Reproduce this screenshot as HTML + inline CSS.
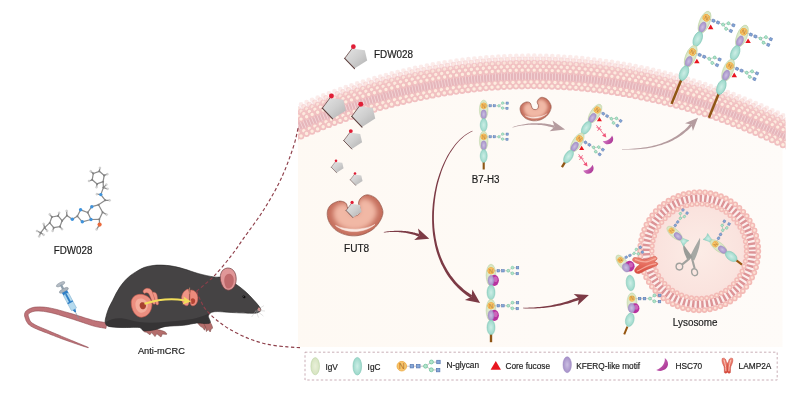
<!DOCTYPE html>
<html><head><meta charset="utf-8"><title>FDW028</title>
<style>
html,body{margin:0;padding:0;background:#fff;}
body{width:799px;height:410px;overflow:hidden;}
svg{display:block;}
text{font-family:"Liberation Sans",sans-serif;fill:#1f1b1c;stroke:#1f1b1c;stroke-width:0.18px;filter:grayscale(1);}
</style></head>
<body>
<svg width="799" height="410" viewBox="0 0 799 410">
<defs>
<linearGradient id="gPent" x1="0" y1="0" x2="1" y2="1">
  <stop offset="0" stop-color="#e4e4e4"/><stop offset="0.5" stop-color="#cfcfcf"/><stop offset="1" stop-color="#b0b0b0"/>
</linearGradient>
<radialGradient id="gFut" cx="0.42" cy="0.42" r="0.62">
  <stop offset="0" stop-color="#f2b9a6"/><stop offset="0.55" stop-color="#e39a86"/><stop offset="0.85" stop-color="#cf7a67"/><stop offset="1" stop-color="#b9604f"/>
</radialGradient>
<radialGradient id="gLys" cx="0.5" cy="0.5" r="0.5">
  <stop offset="0" stop-color="#fcece6"/><stop offset="0.7" stop-color="#fae3de"/><stop offset="1" stop-color="#f8dad6"/>
</radialGradient>
<radialGradient id="gIgC" cx="0.5" cy="0.5" r="0.5">
  <stop offset="0" stop-color="#cdeee6"/><stop offset="1" stop-color="#9bd8ca"/>
</radialGradient>
<radialGradient id="gIgV" cx="0.5" cy="0.5" r="0.5">
  <stop offset="0" stop-color="#e9f0da"/><stop offset="1" stop-color="#d6e4c0"/>
</radialGradient>
<radialGradient id="gKf" cx="0.5" cy="0.5" r="0.5">
  <stop offset="0" stop-color="#cbbfe2"/><stop offset="1" stop-color="#a590c8"/>
</radialGradient>
<linearGradient id="gHsc" x1="0" y1="0" x2="1" y2="1">
  <stop offset="0" stop-color="#d77fc7"/><stop offset="1" stop-color="#a3288c"/>
</linearGradient>
<linearGradient id="gLamp" x1="0" y1="0" x2="0" y2="1">
  <stop offset="0" stop-color="#f08c7c"/><stop offset="1" stop-color="#d94a3c"/>
</linearGradient>
<linearGradient id="gCell" x1="0" y1="0" x2="1" y2="0">
  <stop offset="0" stop-color="#fef9f3"/><stop offset="0.5" stop-color="#fefaf6"/><stop offset="1" stop-color="#fefbf8"/>
</linearGradient>
<filter id="soft" x="-2%" y="-20%" width="104%" height="140%"><feGaussianBlur stdDeviation="0.45"/></filter>
<clipPath id="cellClip"><rect x="298" y="0" width="487.5" height="347"/></clipPath>
<clipPath id="bgClip"><rect x="298" y="0" width="484.5" height="347"/></clipPath>

<g id="pent">
  <path d="M-4.6,-8.2 L7.1,-6.7 L9.25,2.6 L-2.25,10 L-11.2,0.7 Z" fill="url(#gPent)"/>
  <path d="M-4.4,-8.4 L-11.2,0.7" fill="none" stroke="#6b4a48" stroke-width="0.75" stroke-linecap="round"/>
  <path d="M-11.2,0.7 L-2.25,10" fill="none" stroke="#5e403e" stroke-width="0.95" stroke-linecap="round"/>
  <circle cx="-3.3" cy="-9.9" r="2.15" fill="#e01d36"/>
</g>
<g id="glyc">
  <path d="M3,0 H15.2 L19,-2.6 H23.4 M15.2,0 L19,2.4 H23.2" fill="none" stroke="#b9b0b0" stroke-width="0.5"/>
  <rect x="5.35" y="-1.10" width="2.2" height="2.2" fill="#86a8d8" stroke="#5677b0" stroke-width="0.45"/>
  <rect x="9.50" y="-1.10" width="2.2" height="2.2" fill="#86a8d8" stroke="#5677b0" stroke-width="0.45"/>
  <circle cx="15.2" cy="0" r="1.25" fill="#b4e4cd" stroke="#6fc29c" stroke-width="0.5"/>
  <circle cx="19" cy="-2.7" r="1.25" fill="#b4e4cd" stroke="#6fc29c" stroke-width="0.5"/>
  <circle cx="18.9" cy="2.3" r="1.25" fill="#b4e4cd" stroke="#6fc29c" stroke-width="0.5"/>
  <rect x="22.40" y="-3.80" width="2.2" height="2.2" fill="#86a8d8" stroke="#5677b0" stroke-width="0.45"/>
  <rect x="22.20" y="1.40" width="2.2" height="2.2" fill="#86a8d8" stroke="#5677b0" stroke-width="0.45"/>
</g>
<g id="Nc">
  <circle r="2.8" fill="#f8c56e" stroke="#ecab45" stroke-width="0.5"/>
  <text x="0" y="1.7" font-size="4.8" text-anchor="middle" style="fill:#b07420;stroke:none;filter:none">N</text>
</g>
<path id="tri" d="M0,-2.1 L2.3,1.8 L-2.3,1.8Z" fill="#e8151f"/>
<path id="hsc" d="M-5.4,-1.6 C-2.6,0.6 2.6,0.6 5.4,-1.6 C5.6,2.2 3.2,4.6 0,4.6 C-3.2,4.6 -5.6,2.2 -5.4,-1.6Z" fill="url(#gHsc)"/>
<clipPath id="futClip"><path d="M-27.8,0.2 C-27.7,-2.6 -26.7,-5.5 -24.8,-7.5 C-22.9,-9.5 -18.8,-11.4 -16.2,-11.8 C-13.6,-12.2 -10.9,-11.2 -9.4,-10.1 C-7.9,-9.0 -8.0,-6.8 -7.4,-5.0 C-6.8,-3.2 -6.7,-0.7 -5.6,0.6 C-4.5,1.9 -2.5,2.7 -1.0,2.8 C0.5,2.9 2.5,2.5 3.6,1.4 C4.7,0.3 5.4,-2.3 5.4,-4.0 C5.4,-5.7 3.8,-7.5 3.6,-9.0 C3.4,-10.5 3.7,-11.7 4.4,-13.0 C5.1,-14.3 6.2,-15.8 7.7,-16.6 C9.2,-17.5 11.3,-18.6 13.7,-18.1 C16.1,-17.6 19.8,-16.1 22.2,-13.5 C24.6,-10.9 27.2,-5.8 27.8,-2.4 C28.4,1.0 27.2,3.9 25.6,7.0 C24.0,10.1 21.2,13.9 17.9,16.4 C14.6,18.9 10.0,21.0 6.0,22.0 C2.0,23.0 -2.0,23.1 -6.0,22.5 C-10.0,21.9 -14.6,20.2 -17.9,18.1 C-21.2,16.0 -24.0,12.6 -25.6,9.6 C-27.2,6.6 -27.9,3.1 -27.8,0.2Z"/></clipPath><filter id="blur3" x="-30%" y="-30%" width="160%" height="160%"><feGaussianBlur stdDeviation="3.2"/></filter></defs>
<g clip-path="url(#cellClip)">
<path d="M290,126.1 Q542.5,12.4 795,136.8 L795,360 L290,360Z" fill="url(#gCell)" clip-path="url(#bgClip)"/>
<path d="M290,114.6 Q542.5,1.9 795,126.3 L795,151.8 Q542.5,27.4 290,142.1Z" fill="#f6d9d6"/>
<path d="M290,123.9 Q542.5,10.9 795,135.3 L795,145.8 Q542.5,21.4 290,135.5Z" fill="#e6b6bb"/>
<path d="M290,129.8 Q542.5,16.2 795,140.6" fill="none" stroke="#f8e3e3" stroke-width="9.5" stroke-dasharray="0.8 2.2" opacity="0.75"/>
<g filter="url(#soft)">
<path d="M290,109.3 Q542.5,-3.4 795,121.0" fill="none" stroke="#f1c0c1" stroke-width="4.8" stroke-linecap="round" stroke-dasharray="0 6.0" stroke-dashoffset="0" opacity="0.3"/>
<path d="M290,109.0 Q542.5,-3.7 795,120.7" fill="none" stroke="#fdecdf" stroke-width="2.59" stroke-linecap="round" stroke-dasharray="0 6.0" stroke-dashoffset="0" opacity="0.3"/>
<path d="M290,112.7 Q542.5,0.0 795,124.4" fill="none" stroke="#f1c0c1" stroke-width="5.4" stroke-linecap="round" stroke-dasharray="0 6.0" stroke-dashoffset="3" opacity="0.52"/>
<path d="M290,112.4 Q542.5,-0.3 795,124.1" fill="none" stroke="#fdecdf" stroke-width="2.92" stroke-linecap="round" stroke-dasharray="0 6.0" stroke-dashoffset="3" opacity="0.52"/>
<path d="M290,116.3 Q542.5,3.6 795,128.0" fill="none" stroke="#f1c0c1" stroke-width="5.9" stroke-linecap="round" stroke-dasharray="0 6.0" stroke-dashoffset="0" opacity="0.78"/>
<path d="M290,116.0 Q542.5,3.3 795,127.7" fill="none" stroke="#fdecdf" stroke-width="3.19" stroke-linecap="round" stroke-dasharray="0 6.0" stroke-dashoffset="0" opacity="0.78"/>
<path d="M290,120.1 Q542.5,7.4 795,131.8" fill="none" stroke="#f1c0c1" stroke-width="6.2" stroke-linecap="round" stroke-dasharray="0 6.0" stroke-dashoffset="3" opacity="0.95"/>
<path d="M290,119.8 Q542.5,7.1 795,131.5" fill="none" stroke="#fdecdf" stroke-width="3.35" stroke-linecap="round" stroke-dasharray="0 6.0" stroke-dashoffset="3" opacity="0.95"/>
<path d="M290,124.2 Q542.5,11.2 795,135.6" fill="none" stroke="#f1c0c1" stroke-width="6.2" stroke-linecap="round" stroke-dasharray="0 6.0" stroke-dashoffset="0" opacity="1.0"/>
<path d="M290,123.9 Q542.5,10.9 795,135.3" fill="none" stroke="#fdecdf" stroke-width="3.35" stroke-linecap="round" stroke-dasharray="0 6.0" stroke-dashoffset="0" opacity="1.0"/>
<path d="M290,137.1 Q542.5,22.8 795,147.2" fill="none" stroke="#f1c0c1" stroke-width="6.4" stroke-linecap="round" stroke-dasharray="0 6.0" stroke-dashoffset="3" opacity="1.0"/>
<path d="M290,136.8 Q542.5,22.5 795,146.9" fill="none" stroke="#fdecdf" stroke-width="3.46" stroke-linecap="round" stroke-dasharray="0 6.0" stroke-dashoffset="3" opacity="1.0"/>
<path d="M290,141.1 Q542.5,26.4 795,150.8" fill="none" stroke="#f1c0c1" stroke-width="6.4" stroke-linecap="round" stroke-dasharray="0 6.0" stroke-dashoffset="0" opacity="1.0"/>
<path d="M290,140.8 Q542.5,26.1 795,150.5" fill="none" stroke="#fdecdf" stroke-width="3.46" stroke-linecap="round" stroke-dasharray="0 6.0" stroke-dashoffset="0" opacity="1.0"/>
</g>
</g>
<use href="#pent" transform="translate(357,57.6) scale(1.1)"/>
<use href="#pent" transform="translate(335.2,107.4) scale(1.15)"/>
<use href="#pent" transform="translate(364.6,115.6) scale(1.15)"/>
<use href="#pent" transform="translate(353.8,140) scale(0.9)"/>
<use href="#pent" transform="translate(338,166.8) scale(0.6)"/>
<use href="#pent" transform="translate(357,179.4) scale(0.6)"/>
<text transform="translate(374.0,57.9) scale(0.9569,1)" font-size="10.35">FDW028</text>
<g transform="translate(355,213)"><g clip-path="url(#futClip)"><path d="M-27.8,0.2 C-27.7,-2.6 -26.7,-5.5 -24.8,-7.5 C-22.9,-9.5 -18.8,-11.4 -16.2,-11.8 C-13.6,-12.2 -10.9,-11.2 -9.4,-10.1 C-7.9,-9.0 -8.0,-6.8 -7.4,-5.0 C-6.8,-3.2 -6.7,-0.7 -5.6,0.6 C-4.5,1.9 -2.5,2.7 -1.0,2.8 C0.5,2.9 2.5,2.5 3.6,1.4 C4.7,0.3 5.4,-2.3 5.4,-4.0 C5.4,-5.7 3.8,-7.5 3.6,-9.0 C3.4,-10.5 3.7,-11.7 4.4,-13.0 C5.1,-14.3 6.2,-15.8 7.7,-16.6 C9.2,-17.5 11.3,-18.6 13.7,-18.1 C16.1,-17.6 19.8,-16.1 22.2,-13.5 C24.6,-10.9 27.2,-5.8 27.8,-2.4 C28.4,1.0 27.2,3.9 25.6,7.0 C24.0,10.1 21.2,13.9 17.9,16.4 C14.6,18.9 10.0,21.0 6.0,22.0 C2.0,23.0 -2.0,23.1 -6.0,22.5 C-10.0,21.9 -14.6,20.2 -17.9,18.1 C-21.2,16.0 -24.0,12.6 -25.6,9.6 C-27.2,6.6 -27.9,3.1 -27.8,0.2Z" fill="#c56f5d"/><path d="M-27.8,0.2 C-27.7,-2.6 -26.7,-5.5 -24.8,-7.5 C-22.9,-9.5 -18.8,-11.4 -16.2,-11.8 C-13.6,-12.2 -10.9,-11.2 -9.4,-10.1 C-7.9,-9.0 -8.0,-6.8 -7.4,-5.0 C-6.8,-3.2 -6.7,-0.7 -5.6,0.6 C-4.5,1.9 -2.5,2.7 -1.0,2.8 C0.5,2.9 2.5,2.5 3.6,1.4 C4.7,0.3 5.4,-2.3 5.4,-4.0 C5.4,-5.7 3.8,-7.5 3.6,-9.0 C3.4,-10.5 3.7,-11.7 4.4,-13.0 C5.1,-14.3 6.2,-15.8 7.7,-16.6 C9.2,-17.5 11.3,-18.6 13.7,-18.1 C16.1,-17.6 19.8,-16.1 22.2,-13.5 C24.6,-10.9 27.2,-5.8 27.8,-2.4 C28.4,1.0 27.2,3.9 25.6,7.0 C24.0,10.1 21.2,13.9 17.9,16.4 C14.6,18.9 10.0,21.0 6.0,22.0 C2.0,23.0 -2.0,23.1 -6.0,22.5 C-10.0,21.9 -14.6,20.2 -17.9,18.1 C-21.2,16.0 -24.0,12.6 -25.6,9.6 C-27.2,6.6 -27.9,3.1 -27.8,0.2Z" fill="#f1b8a5" transform="translate(0,-0.5) scale(0.78)" filter="url(#blur3)"/></g><path d="M-27.8,0.2 C-27.7,-2.6 -26.7,-5.5 -24.8,-7.5 C-22.9,-9.5 -18.8,-11.4 -16.2,-11.8 C-13.6,-12.2 -10.9,-11.2 -9.4,-10.1 C-7.9,-9.0 -8.0,-6.8 -7.4,-5.0 C-6.8,-3.2 -6.7,-0.7 -5.6,0.6 C-4.5,1.9 -2.5,2.7 -1.0,2.8 C0.5,2.9 2.5,2.5 3.6,1.4 C4.7,0.3 5.4,-2.3 5.4,-4.0 C5.4,-5.7 3.8,-7.5 3.6,-9.0 C3.4,-10.5 3.7,-11.7 4.4,-13.0 C5.1,-14.3 6.2,-15.8 7.7,-16.6 C9.2,-17.5 11.3,-18.6 13.7,-18.1 C16.1,-17.6 19.8,-16.1 22.2,-13.5 C24.6,-10.9 27.2,-5.8 27.8,-2.4 C28.4,1.0 27.2,3.9 25.6,7.0 C24.0,10.1 21.2,13.9 17.9,16.4 C14.6,18.9 10.0,21.0 6.0,22.0 C2.0,23.0 -2.0,23.1 -6.0,22.5 C-10.0,21.9 -14.6,20.2 -17.9,18.1 C-21.2,16.0 -24.0,12.6 -25.6,9.6 C-27.2,6.6 -27.9,3.1 -27.8,0.2Z" fill="none" stroke="#8f4c3e" stroke-width="0.7"/><path d="M-19.5,12.4 C-10,20.4 9,20.8 20,11.4 C10,17.4 -9,17.8 -19.5,12.4Z" fill="#fdeee8" stroke="#fdeee8" stroke-width="0.5" stroke-linejoin="round" opacity="0.95"/></g>
<use href="#pent" transform="translate(354.6,210) scale(0.76)"/>
<text transform="translate(356.6,251.7) scale(0.9569,1)" font-size="10.55" text-anchor="middle">FUT8</text>
<g transform="translate(535.6,108) rotate(-4) scale(0.56)"><g clip-path="url(#futClip)"><path d="M-27.8,0.2 C-27.7,-2.6 -26.7,-5.5 -24.8,-7.5 C-22.9,-9.5 -18.8,-11.4 -16.2,-11.8 C-13.6,-12.2 -10.9,-11.2 -9.4,-10.1 C-7.9,-9.0 -8.0,-6.8 -7.4,-5.0 C-6.8,-3.2 -6.7,-0.7 -5.6,0.6 C-4.5,1.9 -2.5,2.7 -1.0,2.8 C0.5,2.9 2.5,2.5 3.6,1.4 C4.7,0.3 5.4,-2.3 5.4,-4.0 C5.4,-5.7 3.8,-7.5 3.6,-9.0 C3.4,-10.5 3.7,-11.7 4.4,-13.0 C5.1,-14.3 6.2,-15.8 7.7,-16.6 C9.2,-17.5 11.3,-18.6 13.7,-18.1 C16.1,-17.6 19.8,-16.1 22.2,-13.5 C24.6,-10.9 27.2,-5.8 27.8,-2.4 C28.4,1.0 27.2,3.9 25.6,7.0 C24.0,10.1 21.2,13.9 17.9,16.4 C14.6,18.9 10.0,21.0 6.0,22.0 C2.0,23.0 -2.0,23.1 -6.0,22.5 C-10.0,21.9 -14.6,20.2 -17.9,18.1 C-21.2,16.0 -24.0,12.6 -25.6,9.6 C-27.2,6.6 -27.9,3.1 -27.8,0.2Z" fill="#c56f5d"/><path d="M-27.8,0.2 C-27.7,-2.6 -26.7,-5.5 -24.8,-7.5 C-22.9,-9.5 -18.8,-11.4 -16.2,-11.8 C-13.6,-12.2 -10.9,-11.2 -9.4,-10.1 C-7.9,-9.0 -8.0,-6.8 -7.4,-5.0 C-6.8,-3.2 -6.7,-0.7 -5.6,0.6 C-4.5,1.9 -2.5,2.7 -1.0,2.8 C0.5,2.9 2.5,2.5 3.6,1.4 C4.7,0.3 5.4,-2.3 5.4,-4.0 C5.4,-5.7 3.8,-7.5 3.6,-9.0 C3.4,-10.5 3.7,-11.7 4.4,-13.0 C5.1,-14.3 6.2,-15.8 7.7,-16.6 C9.2,-17.5 11.3,-18.6 13.7,-18.1 C16.1,-17.6 19.8,-16.1 22.2,-13.5 C24.6,-10.9 27.2,-5.8 27.8,-2.4 C28.4,1.0 27.2,3.9 25.6,7.0 C24.0,10.1 21.2,13.9 17.9,16.4 C14.6,18.9 10.0,21.0 6.0,22.0 C2.0,23.0 -2.0,23.1 -6.0,22.5 C-10.0,21.9 -14.6,20.2 -17.9,18.1 C-21.2,16.0 -24.0,12.6 -25.6,9.6 C-27.2,6.6 -27.9,3.1 -27.8,0.2Z" fill="#f1b8a5" transform="translate(0,-0.5) scale(0.78)" filter="url(#blur3)"/></g><path d="M-27.8,0.2 C-27.7,-2.6 -26.7,-5.5 -24.8,-7.5 C-22.9,-9.5 -18.8,-11.4 -16.2,-11.8 C-13.6,-12.2 -10.9,-11.2 -9.4,-10.1 C-7.9,-9.0 -8.0,-6.8 -7.4,-5.0 C-6.8,-3.2 -6.7,-0.7 -5.6,0.6 C-4.5,1.9 -2.5,2.7 -1.0,2.8 C0.5,2.9 2.5,2.5 3.6,1.4 C4.7,0.3 5.4,-2.3 5.4,-4.0 C5.4,-5.7 3.8,-7.5 3.6,-9.0 C3.4,-10.5 3.7,-11.7 4.4,-13.0 C5.1,-14.3 6.2,-15.8 7.7,-16.6 C9.2,-17.5 11.3,-18.6 13.7,-18.1 C16.1,-17.6 19.8,-16.1 22.2,-13.5 C24.6,-10.9 27.2,-5.8 27.8,-2.4 C28.4,1.0 27.2,3.9 25.6,7.0 C24.0,10.1 21.2,13.9 17.9,16.4 C14.6,18.9 10.0,21.0 6.0,22.0 C2.0,23.0 -2.0,23.1 -6.0,22.5 C-10.0,21.9 -14.6,20.2 -17.9,18.1 C-21.2,16.0 -24.0,12.6 -25.6,9.6 C-27.2,6.6 -27.9,3.1 -27.8,0.2Z" fill="none" stroke="#8f4c3e" stroke-width="1.1"/><path d="M-19.5,12.4 C-10,20.4 9,20.8 20,11.4 C10,17.4 -9,17.8 -19.5,12.4Z" fill="#fdeee8" stroke="#fdeee8" stroke-width="0.5" stroke-linejoin="round" opacity="0.95"/></g>
<path d="M383.8,232.5 L385.2,232.4 L386.6,232.3 L388.0,232.2 L389.3,232.1 L390.7,232.0 L392.0,232.0 L393.3,232.0 L394.5,232.0 L395.8,232.0 L397.0,232.1 L398.2,232.1 L399.4,232.2 L400.6,232.3 L401.8,232.4 L402.9,232.5 L404.1,232.7 L405.2,232.8 L406.3,233.0 L407.4,233.2 L408.5,233.5 L409.6,233.7 L410.7,234.0 L411.7,234.2 L412.8,234.5 L413.8,234.8 L414.9,235.1 L415.9,235.5 L416.9,235.9 L417.9,236.2 L419.0,236.6 L419.8,234.2 L418.8,233.8 L417.7,233.5 L416.6,233.2 L415.5,232.9 L414.4,232.6 L413.3,232.4 L412.2,232.1 L411.1,231.9 L410.0,231.7 L408.9,231.5 L407.7,231.3 L406.6,231.2 L405.4,231.1 L404.3,231.0 L403.1,230.9 L401.9,230.8 L400.7,230.8 L399.5,230.7 L398.3,230.7 L397.0,230.7 L395.8,230.7 L394.5,230.8 L393.2,230.9 L391.9,231.0 L390.6,231.1 L389.3,231.2 L387.9,231.3 L386.6,231.5 L385.2,231.7 L383.8,231.9Z" fill="#7c3a45" opacity="1"/><path d="M429.3,238.8 L414.2,240.0 L419.4,235.4 L418.0,228.6Z" fill="#7c3a45" opacity="1"/>
<path d="M472.4,130.8 L470.2,131.8 L468.1,132.9 L466.0,134.2 L464.0,135.7 L461.9,137.4 L459.9,139.2 L458.0,141.2 L456.1,143.3 L454.3,145.5 L452.5,147.9 L450.7,150.4 L449.1,153.0 L447.4,155.8 L445.9,158.7 L444.4,161.7 L443.0,164.7 L441.6,167.9 L440.4,171.2 L439.2,174.6 L438.1,178.0 L437.0,181.5 L436.1,185.1 L435.3,188.8 L434.5,192.5 L433.9,196.3 L433.3,200.2 L432.8,204.1 L432.5,208.0 L432.2,212.0 L432.1,216.0 L432.1,220.0 L432.2,223.9 L432.4,227.7 L432.7,231.4 L433.1,235.0 L433.7,238.6 L434.3,242.0 L435.0,245.4 L435.8,248.7 L436.7,251.9 L437.7,255.0 L438.8,258.1 L440.0,261.0 L441.2,263.9 L442.6,266.6 L444.0,269.3 L445.5,271.9 L447.0,274.4 L448.7,276.9 L450.4,279.2 L452.2,281.5 L454.0,283.7 L455.9,285.8 L457.8,287.8 L459.9,289.7 L461.9,291.5 L464.0,293.3 L466.2,295.0 L468.4,296.6 L470.7,298.1 L472.3,295.5 L470.1,294.1 L468.0,292.6 L465.8,291.0 L463.8,289.4 L461.8,287.6 L459.8,285.8 L457.9,283.9 L456.0,281.9 L454.2,279.8 L452.5,277.6 L450.8,275.4 L449.2,273.0 L447.6,270.6 L446.2,268.1 L444.8,265.5 L443.4,262.8 L442.2,260.1 L441.0,257.2 L439.9,254.3 L438.9,251.2 L438.0,248.1 L437.1,244.9 L436.4,241.6 L435.7,238.2 L435.2,234.7 L434.7,231.2 L434.3,227.5 L434.1,223.8 L433.9,219.9 L433.9,216.0 L434.0,212.0 L434.2,208.1 L434.5,204.2 L434.9,200.4 L435.4,196.6 L436.0,192.8 L436.7,189.1 L437.4,185.4 L438.3,181.9 L439.3,178.4 L440.4,174.9 L441.5,171.6 L442.7,168.3 L444.0,165.2 L445.4,162.1 L446.8,159.1 L448.3,156.3 L449.8,153.5 L451.5,150.9 L453.2,148.4 L454.9,146.0 L456.7,143.8 L458.5,141.7 L460.4,139.7 L462.4,137.9 L464.3,136.2 L466.4,134.7 L468.4,133.4 L470.5,132.2 L472.6,131.2Z" fill="#7c3a45" opacity="1"/><path d="M480.1,302.9 L464.9,300.1 L471.5,296.8 L472.4,289.5Z" fill="#7c3a45" opacity="1"/>
<path d="M512.5,127.6 L513.7,127.3 L515.0,126.9 L516.3,126.6 L517.6,126.3 L519.0,126.1 L520.3,125.8 L521.7,125.6 L523.0,125.4 L524.4,125.2 L525.8,125.0 L527.1,124.9 L528.5,124.8 L529.9,124.7 L531.3,124.7 L532.8,124.7 L534.2,124.7 L535.6,124.7 L537.0,124.8 L538.4,124.9 L539.9,125.0 L541.3,125.1 L542.7,125.3 L544.2,125.5 L545.6,125.8 L547.0,126.1 L548.5,126.4 L549.9,126.7 L551.3,127.1 L552.7,127.5 L554.2,128.0 L554.8,125.6 L553.4,125.3 L551.9,124.9 L550.4,124.6 L548.9,124.3 L547.4,124.0 L545.9,123.8 L544.4,123.6 L543.0,123.5 L541.5,123.3 L540.0,123.2 L538.5,123.2 L537.1,123.2 L535.6,123.2 L534.2,123.2 L532.7,123.2 L531.3,123.3 L529.9,123.4 L528.4,123.6 L527.0,123.7 L525.6,123.9 L524.2,124.2 L522.9,124.4 L521.5,124.7 L520.1,125.0 L518.8,125.3 L517.5,125.6 L516.2,126.0 L514.9,126.3 L513.6,126.7 L512.3,127.2Z" fill="#b59c9f" opacity="1"/><path d="M565.1,129.6 L549.7,131.2 L554.5,126.8 L552.5,120.6Z" fill="#b59c9f" opacity="1"/>
<path d="M622.0,149.4 L625.3,149.5 L628.5,149.6 L631.6,149.5 L634.6,149.4 L637.6,149.3 L640.6,149.0 L643.4,148.7 L646.2,148.4 L648.9,148.0 L651.6,147.5 L654.2,146.9 L656.7,146.3 L659.2,145.6 L661.6,144.9 L664.0,144.1 L666.3,143.3 L668.5,142.4 L670.7,141.4 L672.8,140.4 L674.8,139.3 L676.8,138.2 L678.8,137.0 L680.7,135.7 L682.5,134.4 L684.3,133.1 L686.0,131.6 L687.7,130.2 L689.3,128.7 L690.9,127.1 L692.4,125.5 L690.4,123.7 L689.0,125.3 L687.5,126.9 L686.0,128.4 L684.5,129.9 L682.8,131.3 L681.1,132.6 L679.4,134.0 L677.6,135.2 L675.8,136.4 L673.9,137.6 L671.9,138.7 L669.9,139.7 L667.8,140.7 L665.6,141.7 L663.4,142.6 L661.1,143.4 L658.8,144.2 L656.3,144.9 L653.9,145.6 L651.3,146.2 L648.7,146.7 L646.0,147.2 L643.3,147.6 L640.5,148.0 L637.6,148.3 L634.6,148.6 L631.6,148.8 L628.4,148.9 L625.3,149.0 L622.0,149.0Z" fill="#b59c9f" opacity="1"/><path d="M698.0,117.8 L692.9,130.9 L691.4,124.6 L685.0,123.3Z" fill="#b59c9f" opacity="1"/>
<path d="M523.0,308.3 L525.2,308.4 L527.3,308.4 L529.5,308.5 L531.6,308.5 L533.6,308.4 L535.7,308.4 L537.7,308.3 L539.7,308.2 L541.6,308.1 L543.6,307.9 L545.5,307.7 L547.4,307.5 L549.3,307.3 L551.2,307.0 L553.0,306.7 L554.9,306.4 L556.7,306.1 L558.5,305.8 L560.3,305.4 L562.1,305.0 L563.8,304.6 L565.6,304.1 L567.4,303.7 L569.1,303.2 L570.8,302.7 L572.6,302.1 L574.3,301.6 L576.0,301.0 L577.8,300.4 L579.5,299.8 L578.5,297.2 L576.8,297.9 L575.2,298.5 L573.5,299.1 L571.8,299.7 L570.1,300.3 L568.4,300.9 L566.7,301.4 L565.0,302.0 L563.3,302.5 L561.6,302.9 L559.8,303.4 L558.1,303.8 L556.3,304.3 L554.5,304.6 L552.7,305.0 L550.9,305.4 L549.1,305.7 L547.2,306.0 L545.3,306.3 L543.4,306.5 L541.5,306.7 L539.6,306.9 L537.6,307.1 L535.6,307.3 L533.6,307.4 L531.5,307.5 L529.4,307.6 L527.3,307.7 L525.2,307.7 L523.0,307.7Z" fill="#7c3a45" opacity="1"/><path d="M588.9,294.9 L577.8,305.3 L579.0,298.5 L573.7,294.1Z" fill="#7c3a45" opacity="1"/>
<g transform="translate(483.7,100) rotate(0) scale(1.0)"><rect x="-1.05" y="61" width="2.1" height="8.5" fill="#8f5514"/><ellipse cx="0" cy="9.8" rx="4.3" ry="9.8" fill="url(#gIgV)" stroke="#bcd3a6" stroke-width="0.5"/><ellipse cx="0" cy="14.3" rx="2.7" ry="4.6" fill="url(#gKf)" stroke="#9a86c0" stroke-width="0.3"/><ellipse cx="0" cy="25" rx="3.5" ry="6.5" fill="url(#gIgC)" stroke="#7fc6b6" stroke-width="0.5"/><use href="#Nc" x="0" y="5.8"/><use href="#glyc" transform="translate(0,5.8) rotate(0) scale(1.0)"/><use href="#Nc" x="0" y="5.8"/><ellipse cx="0" cy="40.8" rx="4.3" ry="9.8" fill="url(#gIgV)" stroke="#bcd3a6" stroke-width="0.5"/><ellipse cx="0" cy="45.3" rx="2.7" ry="4.6" fill="url(#gKf)" stroke="#9a86c0" stroke-width="0.3"/><ellipse cx="0" cy="56" rx="3.5" ry="6.5" fill="url(#gIgC)" stroke="#7fc6b6" stroke-width="0.5"/><use href="#Nc" x="0" y="36.8"/><use href="#glyc" transform="translate(0,36.8) rotate(0) scale(1.0)"/><use href="#Nc" x="0" y="36.8"/></g>
<text transform="translate(485.6,182.8) scale(0.9569,1)" font-size="10.24" text-anchor="middle">B7-H3</text>
<g transform="translate(600.6,104.6) rotate(31.7) scale(1.09)"><rect x="-1.05" y="61" width="2.1" height="6.5" fill="#8f5514"/><ellipse cx="0" cy="9.8" rx="4.3" ry="9.8" fill="url(#gIgV)" stroke="#bcd3a6" stroke-width="0.5"/><ellipse cx="0" cy="14.3" rx="2.7" ry="4.6" fill="url(#gKf)" stroke="#9a86c0" stroke-width="0.3"/><ellipse cx="0" cy="25" rx="3.5" ry="6.5" fill="url(#gIgC)" stroke="#7fc6b6" stroke-width="0.5"/><use href="#Nc" x="0" y="5.8"/><use href="#glyc" transform="translate(0,5.8) rotate(0) scale(1.0)"/><use href="#Nc" x="0" y="5.8"/><g transform="translate(6.2,12.1) rotate(-31.7)"><use href="#tri"/></g><ellipse cx="0" cy="40.8" rx="4.3" ry="9.8" fill="url(#gIgV)" stroke="#bcd3a6" stroke-width="0.5"/><ellipse cx="0" cy="45.3" rx="2.7" ry="4.6" fill="url(#gKf)" stroke="#9a86c0" stroke-width="0.3"/><ellipse cx="0" cy="56" rx="3.5" ry="6.5" fill="url(#gIgC)" stroke="#7fc6b6" stroke-width="0.5"/><use href="#Nc" x="0" y="36.8"/><use href="#glyc" transform="translate(0,36.8) rotate(0) scale(1.0)"/><use href="#Nc" x="0" y="36.8"/><g transform="translate(6.2,43.1) rotate(-31.7)"><use href="#tri"/></g></g>
<path d="M596.4,125.2 L605.4,136.4" stroke="#f0557a" stroke-width="0.8" fill="none"/>
<path d="M606.3,137.6 L602.0,135.7 L605.4,132.9Z" fill="#f0557a"/>
<path d="M596.5,127.36 L601.7,129.76 M597.5,130.96 L600.7,126.16" stroke="#f0557a" stroke-width="0.8"/>
<use href="#hsc" transform="translate(608.2,139.6) rotate(-31)"/>
<path d="M578.6,154.2 L586.6,165.4" stroke="#f0557a" stroke-width="0.8" fill="none"/>
<path d="M587.5,166.6 L583.2,164.5 L586.8,161.9Z" fill="#f0557a"/>
<path d="M578.4,156.36 L583.6,158.76 M579.4,159.96 L582.6,155.16" stroke="#f0557a" stroke-width="0.8"/>
<use href="#hsc" transform="translate(588.6,169.0) rotate(-31)"/>
<g transform="translate(708.9,11.4) rotate(22) scale(1.19)"><rect x="-1.05" y="61" width="2.1" height="22.8" fill="#8f5514"/><ellipse cx="0" cy="9.8" rx="4.3" ry="9.8" fill="url(#gIgV)" stroke="#bcd3a6" stroke-width="0.5"/><ellipse cx="0" cy="14.3" rx="2.7" ry="4.6" fill="url(#gKf)" stroke="#9a86c0" stroke-width="0.3"/><ellipse cx="0" cy="25" rx="3.5" ry="6.5" fill="url(#gIgC)" stroke="#7fc6b6" stroke-width="0.5"/><use href="#Nc" x="0" y="5.8"/><use href="#glyc" transform="translate(0,5.8) rotate(0) scale(1.0)"/><use href="#Nc" x="0" y="5.8"/><g transform="translate(6.3,11.6) rotate(-22)"><use href="#tri"/></g><ellipse cx="0" cy="40.8" rx="4.3" ry="9.8" fill="url(#gIgV)" stroke="#bcd3a6" stroke-width="0.5"/><ellipse cx="0" cy="45.3" rx="2.7" ry="4.6" fill="url(#gKf)" stroke="#9a86c0" stroke-width="0.3"/><ellipse cx="0" cy="56" rx="3.5" ry="6.5" fill="url(#gIgC)" stroke="#7fc6b6" stroke-width="0.5"/><use href="#Nc" x="0" y="36.8"/><use href="#glyc" transform="translate(0,36.8) rotate(0) scale(1.0)"/><use href="#Nc" x="0" y="36.8"/><g transform="translate(6.3,42.6) rotate(-22)"><use href="#tri"/></g></g>
<g transform="translate(746.3,25.3) rotate(22) scale(1.19)"><rect x="-1.05" y="61" width="2.1" height="22.8" fill="#8f5514"/><ellipse cx="0" cy="9.8" rx="4.3" ry="9.8" fill="url(#gIgV)" stroke="#bcd3a6" stroke-width="0.5"/><ellipse cx="0" cy="14.3" rx="2.7" ry="4.6" fill="url(#gKf)" stroke="#9a86c0" stroke-width="0.3"/><ellipse cx="0" cy="25" rx="3.5" ry="6.5" fill="url(#gIgC)" stroke="#7fc6b6" stroke-width="0.5"/><use href="#Nc" x="0" y="5.8"/><use href="#glyc" transform="translate(0,5.8) rotate(0) scale(1.0)"/><use href="#Nc" x="0" y="5.8"/><g transform="translate(6.3,11.6) rotate(-22)"><use href="#tri"/></g><ellipse cx="0" cy="40.8" rx="4.3" ry="9.8" fill="url(#gIgV)" stroke="#bcd3a6" stroke-width="0.5"/><ellipse cx="0" cy="45.3" rx="2.7" ry="4.6" fill="url(#gKf)" stroke="#9a86c0" stroke-width="0.3"/><ellipse cx="0" cy="56" rx="3.5" ry="6.5" fill="url(#gIgC)" stroke="#7fc6b6" stroke-width="0.5"/><use href="#Nc" x="0" y="36.8"/><use href="#glyc" transform="translate(0,36.8) rotate(0) scale(1.0)"/><use href="#Nc" x="0" y="36.8"/><g transform="translate(6.3,42.6) rotate(-22)"><use href="#tri"/></g></g>
<g transform="translate(491,264.2) rotate(0) scale(1.129)"><rect x="-1.05" y="61" width="2.1" height="8.1" fill="#8f5514"/><ellipse cx="0" cy="9.8" rx="4.3" ry="9.8" fill="url(#gIgV)" stroke="#bcd3a6" stroke-width="0.5"/><ellipse cx="3.0" cy="14.3" rx="4.0" ry="4.9" fill="#b8329f"/><ellipse cx="4.1" cy="13.3" rx="1.8" ry="2.5" fill="#d57cc6" opacity="0.7"/><ellipse cx="0" cy="14.3" rx="2.7" ry="4.6" fill="url(#gKf)" stroke="#9a86c0" stroke-width="0.3"/><ellipse cx="0" cy="25" rx="3.5" ry="6.5" fill="url(#gIgC)" stroke="#7fc6b6" stroke-width="0.5"/><use href="#Nc" x="0" y="5.8"/><use href="#glyc" transform="translate(0,5.8) rotate(0) scale(1.0)"/><use href="#Nc" x="0" y="5.8"/><ellipse cx="0" cy="40.8" rx="4.3" ry="9.8" fill="url(#gIgV)" stroke="#bcd3a6" stroke-width="0.5"/><ellipse cx="3.0" cy="45.3" rx="4.0" ry="4.9" fill="#b8329f"/><ellipse cx="4.1" cy="44.3" rx="1.8" ry="2.5" fill="#d57cc6" opacity="0.7"/><ellipse cx="0" cy="45.3" rx="2.7" ry="4.6" fill="url(#gKf)" stroke="#9a86c0" stroke-width="0.3"/><ellipse cx="0" cy="56" rx="3.5" ry="6.5" fill="url(#gIgC)" stroke="#7fc6b6" stroke-width="0.5"/><use href="#Nc" x="0" y="36.8"/><use href="#glyc" transform="translate(0,36.8) rotate(0) scale(1.0)"/><use href="#Nc" x="0" y="36.8"/></g>
<circle cx="699.2" cy="251.2" r="59" fill="url(#gLys)"/>
<circle cx="699.2" cy="251.2" r="53" fill="none" stroke="#fcefed" stroke-width="9"/>
<circle cx="699.2" cy="251.2" r="53" fill="none" stroke="#dc9396" stroke-width="7.6" stroke-dasharray="2.405 2.220"/>
<circle cx="699.2" cy="251.2" r="59.1" fill="none" stroke="#f3bab6" stroke-width="5.8" stroke-linecap="round" stroke-dasharray="0 5.4608"/>
<circle cx="699.2" cy="251.2" r="59.1" fill="none" stroke="#fce0d4" stroke-width="2.61" stroke-linecap="round" stroke-dasharray="0 5.4608"/>
<circle cx="699.2" cy="251.2" r="47.3" fill="none" stroke="#f3bab6" stroke-width="5.2" stroke-linecap="round" stroke-dasharray="0 5.1240"/>
<circle cx="699.2" cy="251.2" r="47.3" fill="none" stroke="#fce0d4" stroke-width="2.34" stroke-linecap="round" stroke-dasharray="0 5.1240"/>
<text transform="translate(695.2,326.1) scale(0.9569,1)" font-size="10.35" text-anchor="middle">Lysosome</text>
<g transform="translate(690.4,256.6)" fill="none" stroke="#a0a29e"><path d="M9.6,-18.8 C10.4,-12 7.4,-3.4 3.8,4 L-1.2,1.2 C2.2,-5.2 5.4,-11.8 9.6,-18.8Z" fill="#a6a8a4" stroke="none"/><path d="M-7,-12 C-8,-7.4 -5.2,-1.2 -2.8,4 L2.2,0.4 C-0.8,-3.4 -3.6,-7.6 -7,-12Z" fill="#999b97" stroke="none"/><path d="M1.6,2 L4.2,11.6" stroke-width="2.1"/><path d="M-1,2 L-8.4,8" stroke-width="2.1"/><ellipse cx="4.2" cy="15.6" rx="2.9" ry="3.5" stroke-width="1.4" transform="rotate(-12,4.2,15.6)"/><ellipse cx="-11" cy="10" rx="3.3" ry="3.4" stroke-width="1.4"/></g>
<g transform="translate(667.2,226.8) rotate(-48.6)"><path d="M-1.5,18.2 C-1.9,20.8 -3.2,22.8 -4,25.4 C-1.4,24.2 1.4,24.2 4,25.4 C3.2,22.8 1.9,20.8 1.5,18.2Z" fill="url(#gIgC)" stroke="#7fc6b6" stroke-width="0.4"/><ellipse cx="0" cy="9.8" rx="4.2" ry="9.6" fill="url(#gIgV)" stroke="#bcd3a6" stroke-width="0.5"/><ellipse cx="0" cy="14.3" rx="2.9" ry="4.5" fill="url(#gKf)" stroke="#9a86c0" stroke-width="0.3"/><use href="#glyc" transform="translate(0,5.8) rotate(-6)"/><use href="#Nc" x="0" y="5.8"/></g>
<g transform="translate(710.6,240.5) rotate(-52.4) scale(1.04)"><path d="M-3.6,-6.4 C-1.2,-5.3 1.2,-5.3 3.6,-6.4 C2.9,-4 1.8,-2.2 1.5,0.8 L-1.5,0.8 C-1.8,-2.2 -2.9,-4 -3.6,-6.4Z" fill="url(#gIgC)" stroke="#7fc6b6" stroke-width="0.4"/><rect x="-1" y="30.5" width="2" height="7.6" fill="#96560f"/><ellipse cx="0" cy="9.8" rx="4.2" ry="9.6" fill="url(#gIgV)" stroke="#bcd3a6" stroke-width="0.5"/><ellipse cx="0" cy="14.3" rx="2.9" ry="4.5" fill="url(#gKf)" stroke="#9a86c0" stroke-width="0.3"/><ellipse cx="0" cy="25" rx="3.9" ry="6.4" fill="url(#gIgC)" stroke="#7fc6b6" stroke-width="0.5"/><use href="#glyc" transform="translate(0,5.8) rotate(-9.6)"/><use href="#Nc" x="0" y="5.8"/></g>
<g transform="translate(616.8,255.5) rotate(-38)"><ellipse cx="0" cy="9.8" rx="4.3" ry="9.8" fill="url(#gIgV)" stroke="#bcd3a6" stroke-width="0.5"/><use href="#glyc" transform="translate(0,5.8) rotate(12)"/><use href="#Nc" x="0" y="5.8"/></g>
<ellipse cx="629.6" cy="266.2" rx="5" ry="5.4" fill="#b8329f"/>
<ellipse cx="630.8" cy="265" rx="2.2" ry="2.6" fill="#d57cc6" opacity="0.7"/>
<ellipse cx="626" cy="267.6" rx="3.6" ry="4.6" fill="url(#gKf)" stroke="#9a86c0" stroke-width="0.3" transform="rotate(-25,626,267.6)"/>
<ellipse cx="630.4" cy="283" rx="4.2" ry="7.8" fill="url(#gIgC)" stroke="#7fc6b6" stroke-width="0.5" transform="rotate(-6,630.4,283)"/>
<g transform="translate(632,292.8)"><ellipse cx="0" cy="9.8" rx="5" ry="9.8" fill="url(#gIgV)" stroke="#bcd3a6" stroke-width="0.5"/><ellipse cx="3" cy="15.4" rx="4.4" ry="5" fill="#b8329f"/><ellipse cx="4.2" cy="14.4" rx="2" ry="2.5" fill="#d57cc6" opacity="0.7"/><ellipse cx="-0.4" cy="15.2" rx="3.5" ry="4.7" fill="url(#gKf)" stroke="#9a86c0" stroke-width="0.3"/><use href="#glyc" transform="translate(0,5.8) scale(1.18)"/><use href="#Nc" x="0" y="5.8"/></g>
<ellipse cx="629.8" cy="319.8" rx="4.2" ry="6.8" fill="url(#gIgC)" stroke="#7fc6b6" stroke-width="0.5" transform="rotate(14,629.8,319.8)"/>
<path d="M627.4,326.6 L624.2,334.4" stroke="#96560f" stroke-width="2" />
<path d="M633.8,257.7 C632.8,258.1 632.4,259.7 632.8,260.6 C633.2,261.5 635.3,262.4 636.4,263.0 C637.5,263.6 639.6,263.8 639.6,264.5 C639.6,265.2 637.0,266.4 636.2,267.4 C635.4,268.4 634.6,269.7 634.6,270.6 C634.6,271.6 635.3,272.7 636.2,273.1 C637.1,273.6 638.4,273.7 639.8,273.3 C641.2,272.9 642.7,271.7 644.5,270.8 C646.3,269.9 648.4,269.0 650.4,268.1 C652.4,267.2 655.2,266.4 656.4,265.6 C657.6,264.8 658.1,264.0 657.7,263.3 C657.4,262.6 654.4,262.3 654.3,261.6 C654.2,260.9 656.8,259.8 657.0,258.9 C657.2,258.0 656.4,256.7 655.3,256.5 C654.2,256.3 652.2,257.1 650.4,257.7 C648.6,258.2 646.5,259.8 644.5,259.8 C642.5,259.9 640.5,258.4 638.7,258.0 C636.9,257.6 634.8,257.3 633.8,257.7Z" fill="url(#gLamp)" stroke="#c8483a" stroke-width="0.5"/>
<path d="M635.4,259.6 C640,261.4 644,263 648.4,261.4 C651,260.4 653.6,259.2 655.6,258.6" fill="none" stroke="#f8b4a6" stroke-width="1.2" stroke-linecap="round" opacity="0.85"/>
<path d="M637.2,271 C641,269.4 645,266.6 649,265.4 C651.6,264.6 654,264 655.8,263.6" fill="none" stroke="#f8b4a6" stroke-width="1.1" stroke-linecap="round" opacity="0.8"/>
<rect x="305" y="352.2" width="472.2" height="27.8" fill="none" stroke="#bd9aa5" stroke-width="0.8" stroke-dasharray="2.4 2.1"/>
<ellipse cx="315.2" cy="366.2" rx="4.3" ry="8.6" fill="url(#gIgV)" stroke="#bcd3a6" stroke-width="0.6"/>
<text transform="translate(325.4,369.9) scale(0.9569,1)" font-size="8.67">IgV</text>
<ellipse cx="357.3" cy="366.2" rx="4.3" ry="8.8" fill="url(#gIgC)" stroke="#7fc6b6" stroke-width="0.6"/>
<text transform="translate(367.6,369.9) scale(0.9569,1)" font-size="8.67">IgC</text>
<use href="#glyc" transform="translate(401.8,366.2) scale(1.56)"/>
<use href="#Nc" transform="translate(401.8,366.2) scale(1.7)"/>
<text transform="translate(446.4,367.8) scale(0.9569,1)" font-size="8.67">N-glycan</text>
<use href="#tri" transform="translate(495.8,365.6) scale(2.25)"/>
<text transform="translate(505.4,368.8) scale(0.9569,1)" font-size="8.67">Core fucose</text>
<ellipse cx="567.2" cy="364.7" rx="4.2" ry="8" fill="url(#gKf)" stroke="#9a86c0" stroke-width="0.5"/>
<text transform="translate(576.2,368.8) scale(0.9569,1)" font-size="8.67">KFERQ-like motif</text>
<path d="M664.8,357.9 C665.4,363 662,367.8 656.2,370 C661,372.2 667.2,370.2 668,364.6 C668.2,361.6 666.8,359.2 664.8,357.9Z" fill="url(#gHsc)"/>
<text transform="translate(675.4,369.2) scale(0.9569,1)" font-size="8.67">HSC70</text>
<g transform="translate(727.4,365.6)"><path d="M-5.2,-7 C-3.6,-8 -2.2,-7.2 -1.6,-5.6 C-1,-3.4 -0.4,-2.4 0,-2.4 C0.4,-2.4 1,-3.4 1.6,-5.6 C2.2,-7.2 3.6,-8 5.2,-7 C6,-4.6 4.6,-1.6 3.4,1 C2.8,3.4 3.2,5.6 3,7 C2.2,7.8 0.8,7.8 0,6.6 C-0.8,7.8 -2.2,7.8 -3,7 C-3.2,5.6 -2.8,3.4 -3.4,1 C-4.6,-1.6 -6,-4.6 -5.2,-7Z" fill="url(#gLamp)" stroke="#c53c30" stroke-width="0.5"/><path d="M0,-2 L0,6.4" stroke="#c53c30" stroke-width="0.4"/><path d="M-3.4,-5.6 C-2.6,-2.6 -1.6,0 -1.5,5.6 M3.4,-5.6 C2.6,-2.6 1.6,0 1.5,5.6" stroke="#fbd2c6" stroke-width="1" fill="none" opacity="0.85"/></g>
<text transform="translate(738.6,369.2) scale(0.9569,1)" font-size="8.67">LAMP2A</text>
<g stroke="#8c8c8c" stroke-width="1.25" stroke-linecap="round" fill="none"><path d="M104.2,175.4 L103.1,181.7"/><path d="M103.1,181.7 L97.1,183.9"/><path d="M97.1,183.9 L92.2,179.8"/><path d="M92.2,179.8 L93.3,173.5"/><path d="M93.3,173.5 L99.3,171.3"/><path d="M99.3,171.3 L104.2,175.4"/><path d="M62.1,220.7 L59.9,226.6"/><path d="M59.9,226.6 L53.7,227.7"/><path d="M53.7,227.7 L49.7,222.9"/><path d="M49.7,222.9 L51.9,217.0"/><path d="M51.9,217.0 L58.1,215.9"/><path d="M58.1,215.9 L62.1,220.7"/><path d="M104.2,175.4 L107.4,174.2"/><path d="M97.1,183.9 L96.5,187.3"/><path d="M92.2,179.8 L89.0,181.0"/><path d="M93.3,173.5 L90.7,171.3"/><path d="M99.3,171.3 L99.9,167.9"/><path d="M59.9,226.6 L62.1,229.2"/><path d="M53.7,227.7 L52.6,230.9"/><path d="M51.9,217.0 L49.7,214.4"/><path d="M58.1,215.9 L59.2,212.7"/><path d="M103.1,181.7 L103.4,187.6"/><path d="M103.4,187.6 L100.8,194.6"/><path d="M100.8,194.6 L105.3,200.3"/><path d="M105.3,200.3 L98.5,204.8"/><path d="M91.8,206.7 L98.5,204.8"/><path d="M98.5,204.8 L102.6,212.3"/><path d="M102.6,212.3 L99.3,219.3"/><path d="M99.3,219.3 L91.0,219.5"/><path d="M91.0,219.5 L87.7,212.5"/><path d="M87.7,212.5 L91.8,206.7"/><path d="M87.7,212.5 L80.6,209.8"/><path d="M80.6,209.8 L77.3,216.2"/><path d="M77.3,216.2 L82.3,221.8"/><path d="M82.3,221.8 L91.0,219.5"/><path d="M99.3,219.3 L99.6,224.6"/><path d="M99.6,224.6 L96.6,229.4"/><path d="M77.3,216.2 L72.3,219.2"/><path d="M72.3,219.2 L66.9,215.6"/><path d="M66.9,215.6 L66.6,210.9"/><path d="M66.9,215.6 L62.1,220.7"/><path d="M49.7,222.9 L44.6,227.6"/><path d="M44.6,227.6 L40.6,232.8"/><path d="M103.4,187.6 L107.6,188.8"/><path d="M103.4,187.6 L106.4,184.6"/><path d="M100.8,194.6 L96.8,194.2"/><path d="M105.3,200.3 L109.6,200.4"/><path d="M102.6,212.3 L106.6,214.6"/><path d="M44.6,227.6 L43.6,223.8"/><path d="M44.6,227.6 L47.2,230.8"/><path d="M40.6,232.8 L37.0,231.0"/><path d="M40.6,232.8 L39.2,236.4"/><path d="M40.6,232.8 L43.6,234.8"/></g><circle cx="107.4" cy="174.2" r="1.05" fill="#d4d4d4" stroke="#bdbdbd" stroke-width="0.3"/><circle cx="96.5" cy="187.3" r="1.05" fill="#d4d4d4" stroke="#bdbdbd" stroke-width="0.3"/><circle cx="89.0" cy="181.0" r="1.05" fill="#d4d4d4" stroke="#bdbdbd" stroke-width="0.3"/><circle cx="90.7" cy="171.3" r="1.05" fill="#d4d4d4" stroke="#bdbdbd" stroke-width="0.3"/><circle cx="99.9" cy="167.9" r="1.05" fill="#d4d4d4" stroke="#bdbdbd" stroke-width="0.3"/><circle cx="62.1" cy="229.2" r="1.05" fill="#d4d4d4" stroke="#bdbdbd" stroke-width="0.3"/><circle cx="52.6" cy="230.9" r="1.05" fill="#d4d4d4" stroke="#bdbdbd" stroke-width="0.3"/><circle cx="49.7" cy="214.4" r="1.05" fill="#d4d4d4" stroke="#bdbdbd" stroke-width="0.3"/><circle cx="59.2" cy="212.7" r="1.05" fill="#d4d4d4" stroke="#bdbdbd" stroke-width="0.3"/><circle cx="107.6" cy="188.8" r="1.05" fill="#d4d4d4" stroke="#bdbdbd" stroke-width="0.3"/><circle cx="106.4" cy="184.6" r="1.05" fill="#d4d4d4" stroke="#bdbdbd" stroke-width="0.3"/><circle cx="96.8" cy="194.2" r="1.05" fill="#d4d4d4" stroke="#bdbdbd" stroke-width="0.3"/><circle cx="109.6" cy="200.4" r="1.05" fill="#d4d4d4" stroke="#bdbdbd" stroke-width="0.3"/><circle cx="106.6" cy="214.6" r="1.05" fill="#d4d4d4" stroke="#bdbdbd" stroke-width="0.3"/><circle cx="43.6" cy="223.8" r="1.05" fill="#d4d4d4" stroke="#bdbdbd" stroke-width="0.3"/><circle cx="47.2" cy="230.8" r="1.05" fill="#d4d4d4" stroke="#bdbdbd" stroke-width="0.3"/><circle cx="37.0" cy="231.0" r="1.05" fill="#d4d4d4" stroke="#bdbdbd" stroke-width="0.3"/><circle cx="39.2" cy="236.4" r="1.05" fill="#d4d4d4" stroke="#bdbdbd" stroke-width="0.3"/><circle cx="43.6" cy="234.8" r="1.05" fill="#d4d4d4" stroke="#bdbdbd" stroke-width="0.3"/><circle cx="96.6" cy="229.4" r="1.05" fill="#d4d4d4" stroke="#bdbdbd" stroke-width="0.3"/><circle cx="66.6" cy="210.9" r="1.05" fill="#d4d4d4" stroke="#bdbdbd" stroke-width="0.3"/><circle cx="104.2" cy="175.4" r="1.0" fill="#808080"/><circle cx="103.1" cy="181.7" r="1.0" fill="#808080"/><circle cx="97.1" cy="183.9" r="1.0" fill="#808080"/><circle cx="92.2" cy="179.8" r="1.0" fill="#808080"/><circle cx="93.3" cy="173.5" r="1.0" fill="#808080"/><circle cx="99.3" cy="171.3" r="1.0" fill="#808080"/><circle cx="62.1" cy="220.7" r="1.0" fill="#808080"/><circle cx="59.9" cy="226.6" r="1.0" fill="#808080"/><circle cx="53.7" cy="227.7" r="1.0" fill="#808080"/><circle cx="49.7" cy="222.9" r="1.0" fill="#808080"/><circle cx="51.9" cy="217.0" r="1.0" fill="#808080"/><circle cx="58.1" cy="215.9" r="1.0" fill="#808080"/><circle cx="103.4" cy="187.6" r="1.0" fill="#808080"/><circle cx="105.3" cy="200.3" r="1.0" fill="#808080"/><circle cx="98.5" cy="204.8" r="1.0" fill="#808080"/><circle cx="102.6" cy="212.3" r="1.0" fill="#808080"/><circle cx="99.3" cy="219.3" r="1.0" fill="#808080"/><circle cx="87.7" cy="212.5" r="1.0" fill="#808080"/><circle cx="77.3" cy="216.2" r="1.0" fill="#808080"/><circle cx="66.9" cy="215.6" r="1.0" fill="#808080"/><circle cx="44.6" cy="227.6" r="1.0" fill="#808080"/><circle cx="40.6" cy="232.8" r="1.0" fill="#808080"/><circle cx="100.8" cy="194.6" r="1.7" fill="#3f93dc"/><circle cx="91.8" cy="206.7" r="1.7" fill="#3f93dc"/><circle cx="91.0" cy="219.5" r="1.7" fill="#3f93dc"/><circle cx="80.6" cy="209.8" r="1.7" fill="#3f93dc"/><circle cx="82.3" cy="221.8" r="1.7" fill="#3f93dc"/><circle cx="72.3" cy="219.2" r="1.7" fill="#3f93dc"/><circle cx="99.6" cy="224.6" r="2.1" fill="#ea6a3c"/>
<text transform="translate(73.1,254.4) scale(0.9569,1)" font-size="10.24" text-anchor="middle">FDW028</text>
<path d="M106.9,322.7 L106.0,322.6 L104.9,322.4 L103.6,322.3 L102.1,322.0 L100.6,321.8 L99.2,321.6 L97.8,321.3 L96.6,321.1 L95.6,320.9 L94.8,320.7 L94.1,320.6 L93.5,320.4 L92.7,320.2 L91.8,319.9 L90.6,319.6 L89.1,319.1 L87.2,318.6 L85.0,317.9 L82.6,317.1 L80.1,316.3 L77.4,315.5 L74.7,314.6 L72.0,313.8 L69.5,313.1 L67.0,312.4 L64.5,311.7 L61.9,310.9 L59.3,310.2 L56.8,309.5 L54.3,308.9 L51.9,308.4 L49.7,307.9 L47.6,307.6 L45.6,307.3 L43.7,307.1 L41.9,307.0 L40.1,306.9 L38.5,306.9 L36.9,307.0 L35.4,307.1 L33.9,307.3 L32.6,307.6 L31.3,308.0 L30.1,308.5 L29.0,309.0 L28.0,309.6 L27.1,310.2 L26.3,310.8 L25.6,311.5 L25.1,312.4 L24.7,313.3 L24.6,314.2 L24.5,315.1 L24.6,316.0 L24.8,316.9 L25.1,317.7 L25.3,318.5 L25.7,319.5 L26.0,320.5 L26.6,321.6 L27.3,322.7 L28.2,323.9 L29.3,325.0 L30.8,326.1 L32.5,327.1 L34.5,328.1 L36.7,329.0 L39.0,330.0 L41.5,330.9 L43.9,331.9 L46.4,332.8 L48.8,333.7 L51.1,334.7 L53.6,335.6 L56.0,336.6 L58.5,337.5 L61.0,338.5 L63.5,339.4 L66.0,340.3 L68.5,341.2 L71.1,342.1 L73.9,343.1 L76.7,344.0 L79.6,345.0 L82.3,345.9 L84.7,346.7 L86.7,347.3 L88.2,347.8 L88.4,347.4 L86.9,346.8 L84.9,345.9 L82.6,345.0 L80.0,343.9 L77.2,342.8 L74.4,341.6 L71.7,340.5 L69.1,339.4 L66.7,338.4 L64.3,337.4 L61.8,336.4 L59.4,335.3 L56.9,334.3 L54.5,333.3 L52.1,332.3 L49.8,331.3 L47.4,330.2 L45.0,329.2 L42.6,328.2 L40.2,327.2 L37.9,326.2 L35.9,325.2 L34.1,324.2 L32.6,323.3 L31.5,322.5 L30.7,321.6 L30.1,320.8 L29.6,320.0 L29.3,319.1 L29.0,318.3 L28.8,317.5 L28.5,316.7 L28.3,316.0 L28.2,315.5 L28.2,315.0 L28.2,314.7 L28.3,314.4 L28.4,314.1 L28.6,313.9 L28.9,313.6 L29.4,313.2 L30.0,312.8 L30.7,312.4 L31.5,312.1 L32.5,311.7 L33.5,311.5 L34.6,311.2 L35.8,311.1 L37.1,311.0 L38.5,311.0 L40.0,311.1 L41.6,311.2 L43.3,311.3 L45.0,311.6 L46.9,311.9 L48.9,312.3 L51.0,312.7 L53.2,313.3 L55.6,313.9 L58.1,314.6 L60.6,315.4 L63.1,316.2 L65.6,316.9 L68.1,317.7 L70.6,318.5 L73.2,319.3 L75.9,320.2 L78.5,321.1 L81.1,321.9 L83.5,322.7 L85.6,323.5 L87.5,324.1 L89.0,324.6 L90.2,325.0 L91.1,325.3 L92.0,325.5 L92.7,325.8 L93.5,326.0 L94.4,326.2 L95.4,326.5 L96.7,326.8 L98.2,327.1 L99.7,327.4 L101.2,327.6 L102.7,327.9 L104.0,328.1 L105.1,328.3 L105.9,328.5Z" fill="#bf7378" stroke="#8f4a50" stroke-width="0.6" stroke-linejoin="round"/>
<g fill="#b46e6c" stroke="#74403f" stroke-width="0.5" stroke-linejoin="round"><path d="M147,327 C143,329 142,332 146.4,332.2 L150,334.8 L151.6,332.6 L155,336.6 L156.8,333.8 L161,337 L162.4,334 L166.6,334.4 C167.4,332.4 163,330.6 158,329.8 L154,326Z"/><path d="M203,318 C201.6,322 203,325.6 205.6,327.6 L206.4,331.6 L208.2,329.6 L210.2,332 L211.2,329 L212.6,328.2 C212.6,325.6 210.4,322.6 208.6,320 L207,316Z"/><path d="M197,321 C198,324 200,326.6 202.6,327.6 L204.6,330.2 L205.6,327.2 L203,322Z"/></g>
<path d="M105.2,322.5 C104.8,320.6 105.8,317.6 106.4,315.1 C107.0,312.6 108.0,310.0 109.0,307.6 C110.0,305.2 111.4,302.9 112.6,300.6 C113.8,298.3 114.8,295.9 116.0,293.6 C117.2,291.4 118.5,289.2 119.9,287.1 C121.3,285.0 122.9,282.9 124.6,281.0 C126.3,279.1 128.1,277.3 130.2,275.7 C132.3,274.1 134.6,272.6 137.0,271.2 C139.4,269.8 142.0,268.2 144.7,267.3 C147.4,266.4 150.2,265.9 153.0,265.5 C155.8,265.1 158.1,265.0 161.3,265.1 C164.5,265.2 168.3,265.5 172.0,266.1 C175.7,266.7 179.0,267.5 183.5,268.8 C188.0,270.1 193.7,272.3 198.8,273.7 C203.9,275.1 210.0,276.4 214.2,277.0 C218.4,277.6 220.5,276.5 224.0,277.6 C227.5,278.7 231.5,281.3 235.0,283.6 C238.5,285.9 241.9,288.5 245.0,291.2 C248.1,293.9 251.2,297.2 253.7,300.0 C256.2,302.8 259.1,306.0 260.2,307.9 C261.3,309.8 260.8,310.3 260.2,311.2 C259.6,312.1 258.3,312.7 256.5,313.0 C254.7,313.3 253.5,313.3 249.4,313.2 C245.3,313.1 237.7,312.8 231.8,312.5 C225.9,312.2 218.1,311.2 214.2,311.7 C210.3,312.2 209.1,313.7 208.4,315.6 C207.7,317.5 211.8,321.9 209.8,323.1 C207.8,324.4 201.0,322.7 196.6,323.1 C192.2,323.5 188.6,324.8 183.5,325.3 C178.4,325.9 170.7,325.7 165.9,326.4 C161.1,327.1 158.6,329.0 154.9,329.7 C151.2,330.4 146.5,331.2 143.9,330.8 C141.3,330.4 143.2,328.1 139.5,327.5 C135.8,326.9 127.1,327.7 122.0,327.5 C116.9,327.3 111.6,327.2 108.8,326.4 C106.0,325.6 105.6,324.4 105.2,322.5Z" fill="#454344" stroke="#252324" stroke-width="0.6" stroke-linejoin="round"/>
<path d="M106,322 C112,318 120,317 130,320 C145,325 165,322 185,320 C195,319 204,316 210,313 C209,315 208,316 207.6,316.5 C208.4,319 209.2,321 209.8,323.1 C205,323.6 201,323.4 196.6,323.1 C188,325 176,326.4 165.9,326.4 C158,328.6 150,331 143.9,330.8 C142,330 140.6,328.8 139.5,327.5 C128,327.8 116,327.4 108.8,326.4 C106.6,325.6 105.6,324 106,322Z" fill="#2a2829" opacity="0.55"/>
<path d="M221.4,283.6 C218.6,276 221,268.6 227.6,268 C234,267.8 237,274.6 236,281.6 C235.2,287 232,290.4 228,290.2 C225,290 222.8,287.4 221.4,283.6Z" fill="#e09798" stroke="#6e3b3d" stroke-width="0.7"/>
<path d="M224.6,283.4 C223.4,278 225.6,273.6 229.4,273.8 C233,274.2 234.4,278.6 233.6,282.6 C232.8,286.4 230.6,288.8 228,288.6 C226.2,288.4 225.2,286.2 224.6,283.4Z" fill="#c06a6c"/>
<ellipse cx="244" cy="296.8" rx="1.6" ry="1.2" fill="#0e0d0d" transform="rotate(25,244,296.8)"/>
<circle cx="243.6" cy="296.4" r="0.4" fill="#888"/>
<path d="M258.6,307.2 C260.6,307.8 261.2,309.6 260.2,311.2 C258.8,311.6 257.8,310.6 257.6,309.2Z" fill="#d98a86"/>
<g stroke="#b9b9b9" stroke-width="0.4" fill="none"><path d="M257,310 L264,305.6"/><path d="M257,310.4 L265,311"/><path d="M257,311 L263.4,316"/><path d="M256,311 L258.6,317.6"/><path d="M256.4,310 L251.6,317"/></g>
<g transform="translate(141.6,306) scale(1.25) translate(-141.9,-304.4)">
<path d="M133.6,301 C134.4,296 139,294.2 143.6,295.4 C147.6,296.6 150.4,299.6 150.2,303.4 C150,308.6 147,312.8 142,313.4 C137.4,313.6 133.4,308 133.6,301Z" fill="#ec8f80" stroke="#c0584c" stroke-width="0.5"/>
<path d="M137,302 C137.6,298.8 140.4,297.8 143.2,298.8 C146,300 147.4,302.4 146.8,305 C146,308.2 144,310 141.4,309.8 C138.6,309.4 136.6,306 137,302Z" fill="#f4ad9c"/>
<path d="M140.4,303 C141.2,301 143.4,301 144.8,302.4 C146,304 145.4,306.2 143.6,307 C141.6,307.4 140,305.4 140.4,303Z" fill="#a8402f"/>
</g>
<path d="M143.6,290 C146,287.6 149.6,287.8 151.6,290.4 C153.6,293.4 154.6,297.6 155.6,301.6 C156,304 154.4,305 152.8,303.6 C151.4,300 150.4,296.4 148.6,293.6 C147.2,292.2 145.6,292.6 144.6,293.4 C143,293 142.6,291.2 143.6,290Z" fill="#ee9586" stroke="#c0584c" stroke-width="0.5"/>
<path d="M152.4,292.6 C154.4,291.4 156.4,292.6 157,295 C157.6,298 158,301 158.6,303.6 C158.4,305.2 157,305.4 156,304.2 C155.2,301 154.4,297 152.4,292.6Z" fill="#ee9586" stroke="#c0584c" stroke-width="0.4"/>
<path d="M188.4,289 C185,289.6 182,293 181.6,297.6 C181.4,302 183.6,305.6 187,305.8 C188.6,305.4 189.2,303 189.2,300 L189.4,293Z" fill="#ee9586" stroke="#c0584c" stroke-width="0.5"/>
<path d="M190.6,290 C194,289.6 197.4,292.6 197.8,297.2 C198.2,302 196,305.8 192.4,305.8 C190.4,305.4 190,303 190,300 L190,293Z" fill="#ec8a7c" stroke="#c0584c" stroke-width="0.5"/>
<path d="M191,299 C192.6,297.4 195,298.4 195.2,300.8 C195.2,303.4 193,304.8 191.4,303.8Z" fill="#b24434"/>
<path d="M189.6,287.6 L189.6,294" stroke="#c98a70" stroke-width="0.8"/>
<path d="M145.4,303.6 C158,299.4 172,298.4 184,300.2" fill="none" stroke="#f2de5a" stroke-width="2.1" stroke-linecap="round"/>
<path d="M191,301.6 L183.4,296.6 L184.8,300.4 L182.6,304.6Z" fill="#f2de5a"/>
<text transform="translate(161.4,353.8) scale(0.9569,1)" font-size="9.72" text-anchor="middle">Anti-mCRC</text>
<g transform="translate(60.6,284.2) rotate(-28) scale(1.32,1.12)"><ellipse cx="0" cy="0" rx="3.6" ry="1.5" fill="#b4bcc4" stroke="#8c97a2" stroke-width="0.4"/><rect x="-0.9" y="0.6" width="1.8" height="5" fill="#8fa0ae"/><ellipse cx="0" cy="6.2" rx="3.8" ry="1.6" fill="#aab4bd" stroke="#87929c" stroke-width="0.4"/><rect x="-2.2" y="7.4" width="4.4" height="3" fill="#2f7fc6"/><rect x="-2.2" y="10" width="4.4" height="15.6" rx="0.6" fill="#b5daee" stroke="#7fb0cf" stroke-width="0.4"/><rect x="-0.7" y="10" width="1.4" height="8" fill="#2f7fc6"/><rect x="-2.2" y="17.6" width="4.4" height="1.3" fill="#2f7fc6"/><path d="M-1.2,25.6 L1.2,25.6 L0.5,28.4 L-0.5,28.4Z" fill="#2f7fc6"/><path d="M0,28.4 L0,35" stroke="#7f8f9c" stroke-width="0.5"/></g>
<path d="M196.6,291.2 C199.5,288.6 208.3,281.9 214.2,275.9 C220.1,269.9 226.9,261.3 231.8,255.0 C236.7,248.7 238.3,245.8 243.7,238.2 C249.1,230.6 257.9,219.1 264.1,209.2 C270.4,199.2 276.4,188.7 281.2,178.5 C286.0,168.3 290.2,156.3 293.1,147.8 C296.0,139.3 297.4,130.7 298.3,127.3" fill="none" stroke="#8e3f4a" stroke-width="1.15" stroke-dasharray="3.4 2.4"/>
<path d="M196.6,291.2 C197.3,292.8 199.1,297.6 200.6,300.6 C202.1,303.6 203.1,306.2 205.6,309.3 C208.1,312.4 211.5,315.8 215.4,319.0 C219.3,322.2 223.5,325.6 229.0,328.8 C234.5,332.1 242.0,335.9 248.5,338.5 C255.0,341.1 261.5,343.0 268.0,344.4 C274.5,345.8 282.3,346.4 287.6,346.9 C292.9,347.4 297.9,347.5 300.0,347.6" fill="none" stroke="#8e3f4a" stroke-width="1.15" stroke-dasharray="3.4 2.4"/>
</svg>
</body></html>
